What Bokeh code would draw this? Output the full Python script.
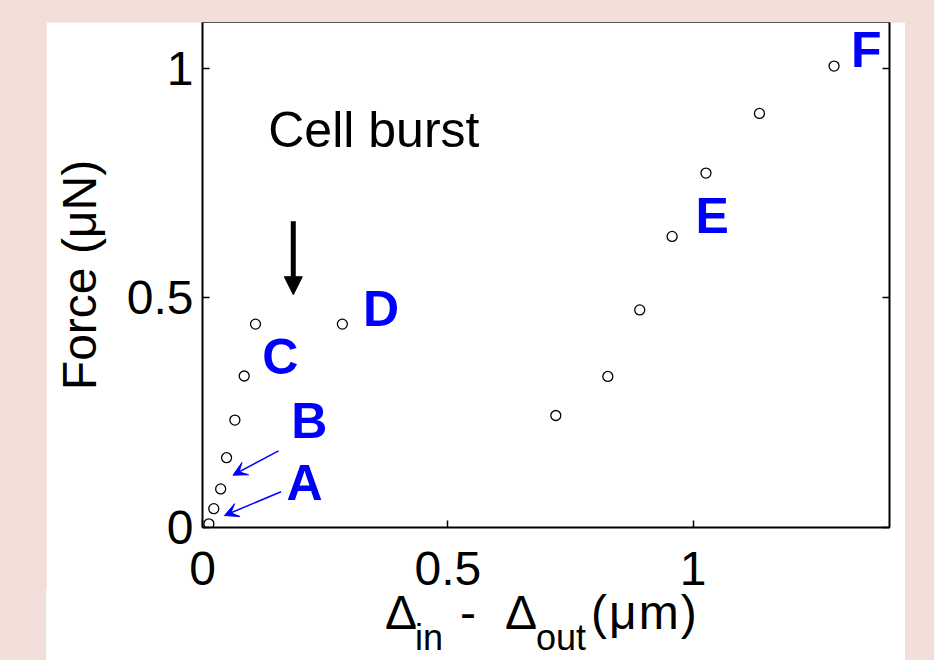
from bokeh.plotting import figure
from bokeh.layouts import column
from bokeh.models import (Label, Arrow, NormalHead, VeeHead, LinearAxis, FixedTicker,
                          Range1d, CustomJSTickFormatter, Div)
from bokeh.embed import file_html
from bokeh.resources import INLINE

# ---- data -------------------------------------------------------------
disp_x = [0.013, 0.023, 0.037, 0.049, 0.066, 0.085, 0.108, 0.285,
          0.720, 0.826, 0.891, 0.957, 1.026, 1.135, 1.287]
force_y = [0.008, 0.041, 0.084, 0.152, 0.234, 0.330, 0.443, 0.443,
           0.244, 0.329, 0.474, 0.634, 0.772, 0.902, 1.005]

x_ticks = [0, 0.5, 1]
x_tick_labels = ["0", "0.5", "1"]
y_ticks = [0, 0.5, 1]
y_tick_labels = ["0", "0.5", "1"]

letter_text = ["A", "B", "C", "D", "E", "F"]
letter_x = [0.208, 0.2175, 0.1585, 0.364, 1.0386, 1.3526]
letter_y = [0.098, 0.231, 0.372, 0.476, 0.678, 1.041]

# blue pointer arrows (A, B): start -> end
ptr_x0 = [0.160, 0.155]
ptr_y0 = [0.078, 0.167]
ptr_x1 = [0.0447, 0.062]
ptr_y1 = [0.026, 0.114]

# burst arrow
burst_x = 0.185
burst_y0 = 0.667
burst_y1 = 0.507
burst_text = "Cell burst"
burst_text_x = 0.134
burst_text_y = 0.866

y_label = "Force (μN)"
# x label pieces: (text, is_subscript)
xlab_text = ["Δ", "in", "-", "Δ", "out", "(μm)"]
xlab_sub = [False, True, False, False, True, False]
xlab_left = [339, 369, 414, 459, 490, 545]   # px inside the label strip

FONT = "Liberation Sans"
PINK = "#f3dfda"

p = figure(width=859, height=585, x_range=Range1d(0, 1.4), y_range=Range1d(0, 1.1),
           output_backend="svg", toolbar_location=None,
           min_border_left=156, min_border_right=16, min_border_top=0,
           min_border_bottom=80,
           background_fill_color="white", border_fill_color="white")
p.grid.visible = False
p.outline_line_color = "#555555"
p.outline_line_width = 1

def style_axis(ax, ticks, labels):
    ax.ticker = FixedTicker(ticks=ticks)
    ax.major_label_overrides = {t: l for t, l in zip(ticks, labels)}
    ax.major_tick_in = 7
    ax.major_tick_out = 0
    ax.major_tick_line_width = 1.5
    ax.major_tick_line_color = "black"
    ax.minor_tick_line_color = None
    ax.axis_line_width = 2
    ax.axis_line_color = "black"
    ax.major_label_text_font = FONT
    ax.major_label_text_font_size = "48px"
    ax.major_label_text_color = "black"

xa = p.xaxis[0]
ya = p.yaxis[0]
style_axis(xa, x_ticks, x_tick_labels)
style_axis(ya, y_ticks, y_tick_labels)
xa.major_label_standoff = 24
ya.major_label_standoff = 9
ya.axis_label = y_label
ya.axis_label_text_font = FONT
ya.axis_label_text_font_size = "48px"
ya.axis_label_text_font_style = "normal"
ya.axis_label_text_color = "black"
ya.axis_label_standoff = 18

ra = LinearAxis(ticker=FixedTicker(ticks=y_ticks),
                formatter=CustomJSTickFormatter(code="return ''"),
                major_tick_in=7, major_tick_out=0, major_tick_line_width=1.5,
                minor_tick_line_color=None, axis_line_width=2,
                major_label_text_font_size="0px", major_label_standoff=0)
p.add_layout(ra, "right")

# data points
p.scatter(disp_x, force_y, marker="circle", size=10, fill_color=None,
          line_color="black", line_width=1.3)

# letters
for t, lx, ly in zip(letter_text, letter_x, letter_y):
    p.add_layout(Label(x=lx, y=ly, text=t, text_font=FONT, text_font_size="50px",
                       text_font_style="bold", text_color="#0000ff",
                       text_align="center", text_baseline="alphabetic"))

# blue pointer arrows
for x0, y0, x1, y1 in zip(ptr_x0, ptr_y0, ptr_x1, ptr_y1):
    p.add_layout(Arrow(x_start=x0, y_start=y0, x_end=x1, y_end=y1,
                       line_color="#0000ff", line_width=1.5,
                       end=VeeHead(size=14, fill_color="#0000ff", line_color="#0000ff",
                                   line_width=1)))

# burst arrow + text
p.add_layout(Arrow(x_start=burst_x, y_start=burst_y0, x_end=burst_x, y_end=burst_y1,
                   line_color="black", line_width=5,
                   end=NormalHead(size=18, fill_color="black", line_color="black",
                                  line_width=1)))
p.add_layout(Label(x=burst_text_x, y=burst_text_y, text=burst_text, text_font=FONT,
                   text_font_size="50px", text_color="black", text_baseline="alphabetic"))

# x axis label strip with subscripts (real HTML text)
spans = []
for t, sub, left in zip(xlab_text, xlab_sub, xlab_left):
    if sub:
        spans.append('<span style="position:absolute;left:%dpx;top:34px;font-size:36px;'
                     'line-height:28px;">%s</span>' % (left, t))
    else:
        spans.append('<span style="position:absolute;left:%dpx;top:-1px;font-size:48px;'
                     'line-height:48px;letter-spacing:%s;">%s</span>'
                     % (left, "2px" if t.startswith("(") else "0px", t))
xdiv = Div(text='<div style="position:relative;width:859px;height:70px;background:white;'
                "font-family:'Liberation Sans';color:black;white-space:nowrap;"
                'overflow:visible;">' + "".join(spans) + "</div>",
           width=859, height=70, margin=(-17, 0, 0, 0),
           styles={"background-color": "white"})

layout = column(p, xdiv, margin=(22, 0, 0, 46), spacing=0)

html = file_html(layout, INLINE, title="Force vs displacement")
html = html.replace("</head>",
                    "<style>html, body {background-color: %s !important;}</style></head>" % PINK, 1)
open("out.html", "w").write(html)
